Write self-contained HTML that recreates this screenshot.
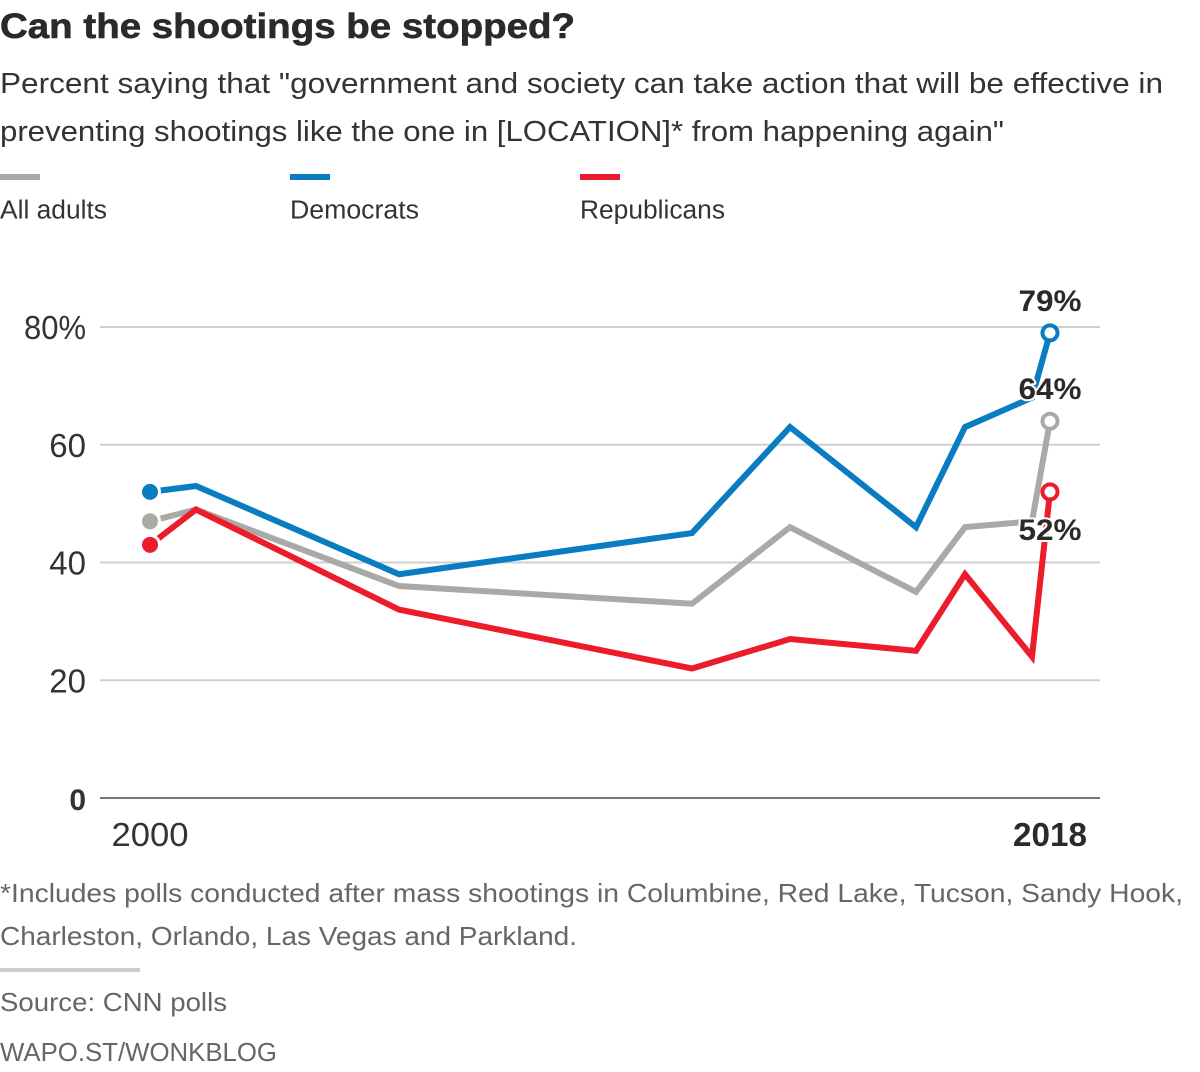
<!DOCTYPE html>
<html lang="en">
<head>
<meta charset="utf-8">
<title>Can the shootings be stopped?</title>
<style>
  html, body { margin: 0; padding: 0; background: #fff; }
  svg { display: block; font-family: "Liberation Sans", sans-serif; }
</style>
</head>
<body>
<svg id="chart" xmlns="http://www.w3.org/2000/svg" width="1200" height="1072" viewBox="0 0 1200 1072">
  <rect width="1200" height="1072" fill="#fff"/>
  <text x="0" y="38" font-size="35" font-weight="700" fill="#2a2a2a" stroke="#2a2a2a" stroke-width="0.6" textLength="575" lengthAdjust="spacingAndGlyphs">Can the shootings be stopped?</text>
  <text x="0" y="93" font-size="29" fill="#333" textLength="1163" lengthAdjust="spacingAndGlyphs">Percent saying that "government and society can take action that will be effective in</text>
  <text x="0" y="141" font-size="29" fill="#333" textLength="1004" lengthAdjust="spacingAndGlyphs">preventing shootings like the one in [LOCATION]* from happening again"</text>

  <rect x="0" y="174" width="40" height="6" fill="#a9a9a6"/>
  <text x="0" y="218.5" font-size="25.5" fill="#333" textLength="107" lengthAdjust="spacingAndGlyphs">All adults</text>
  <rect x="290" y="174" width="40" height="6" fill="#0a7dc2"/>
  <text x="290" y="218.5" font-size="25.5" fill="#333" textLength="129" lengthAdjust="spacingAndGlyphs">Democrats</text>
  <rect x="580" y="174" width="40" height="6" fill="#ec1c2a"/>
  <text x="580" y="218.5" font-size="25.5" fill="#333" textLength="145" lengthAdjust="spacingAndGlyphs">Republicans</text>

  <g id="grid"></g>
  <g id="yAxis"></g>
  <g id="xAxis"></g>
  <g id="series"></g>
  <g id="labels"></g>

  <text x="0" y="902" font-size="26" fill="#666" textLength="1183" lengthAdjust="spacingAndGlyphs">*Includes polls conducted after mass shootings in Columbine, Red Lake, Tucson, Sandy Hook,</text>
  <text x="0" y="945" font-size="26" fill="#666" textLength="577" lengthAdjust="spacingAndGlyphs">Charleston, Orlando, Las Vegas and Parkland.</text>
  <rect x="0" y="968" width="140" height="4" fill="#ccc"/>
  <text x="0" y="1011" font-size="26" fill="#666" textLength="227" lengthAdjust="spacingAndGlyphs">Source: CNN polls</text>
  <text x="0" y="1061" font-size="26" fill="#666" textLength="277" lengthAdjust="spacingAndGlyphs">WAPO.ST/WONKBLOG</text>
</svg>
<script>
const pollDates = [2000, 2000.92, 2004.98, 2010.84, 2012.8, 2015.32, 2016.3, 2017.64, 2018];
const allAdults = [47, 49, 36, 33, 46, 35, 46, 47, 64];
const democrats = [52, 53, 38, 45, 63, 46, 63, 68, 79];
const republicans = [43, 49, 32, 22, 27, 25, 38, 24, 52];
const yTicks = [0, 20, 40, 60, 80];
const yTickLabels = ["0", "20", "40", "60", "80%"];
const xTicks = [2000, 2018];
const xTickLabels = ["2000", "2018"];

const NS = "http://www.w3.org/2000/svg";
const xScale = function (year) { return 150 + (year - 2000) * (1050 - 150) / 18; };
const yScale = function (value) { return 798 - value * (798 - 327) / 80; };

function make(parent, tag, attrs) {
  const el = document.createElementNS(NS, tag);
  Object.keys(attrs).forEach(function (k) { el.setAttribute(k, attrs[k]); });
  parent.appendChild(el);
  return el;
}

const grid = document.getElementById("grid");
const yAxis = document.getElementById("yAxis");
const xAxis = document.getElementById("xAxis");
const seriesGroup = document.getElementById("series");
const labelGroup = document.getElementById("labels");

yTicks.forEach(function (tick, i) {
  const isZero = tick === 0;
  const line = make(grid, "line", {
    x1: 100, x2: 1100, y1: yScale(tick), y2: yScale(tick),
    stroke: isZero ? "#777" : "#cfcfcf", "stroke-width": 2
  });
  
  
  const label = make(yAxis, "text", {
    x: 86, y: yScale(tick) + 12, "text-anchor": "end",
    "font-size": isZero ? 30 : 33, "font-weight": isZero ? 700 : 400, fill: "#333"
  });
  if (yTickLabels[i].indexOf("%") !== -1) {
    label.setAttribute("textLength", 62);
    label.setAttribute("lengthAdjust", "spacingAndGlyphs");
  }
  
  
  label.textContent = yTickLabels[i];
});

xTicks.forEach(function (year, i) {
  const isLast = i === xTicks.length - 1;
  const label = make(xAxis, "text", {
    x: xScale(year), y: 846, "text-anchor": "middle",
    "font-size": 33, "font-weight": isLast ? 700 : 400, fill: isLast ? "#2a2a2a" : "#333",
    textLength: isLast ? 74 : 77, lengthAdjust: "spacingAndGlyphs"
  });
  
  
  label.textContent = xTickLabels[i];
});

function drawSeries(key, values, color) {
  const pts = values.map(function (v, i) { return xScale(pollDates[i]) + "," + yScale(v); }).join(" ");
  const line = make(seriesGroup, "polyline", {
    points: pts, fill: "none", stroke: color, "stroke-width": 6,
    "stroke-linejoin": "miter", "stroke-miterlimit": 6
  });
  
  
}

function drawDots(key, values, color) {
  const last = values.length - 1;
  const start = make(seriesGroup, "circle", {
    cx: xScale(pollDates[0]), cy: yScale(values[0]), r: 9.5,
    fill: color, stroke: "#fff", "stroke-width": 3
  });
  
  
  const end = make(seriesGroup, "circle", {
    cx: xScale(pollDates[last]), cy: yScale(values[last]), r: 7.5,
    fill: "#fff", stroke: color, "stroke-width": 4
  });
  
  
}

drawSeries("democrats", democrats, "#0a7dc2");
drawSeries("all-adults", allAdults, "#a9a9a6");
drawSeries("republicans", republicans, "#ec1c2a");
drawDots("democrats", democrats, "#0a7dc2");
drawDots("all-adults", allAdults, "#a9a9a6");
drawDots("republicans", republicans, "#ec1c2a");

function drawEndLabel(key, values, offset) {
  const last = values.length - 1;
  const label = make(labelGroup, "text", {
    x: xScale(pollDates[last]), y: yScale(values[last]) + offset, "text-anchor": "middle",
    "font-size": 30, "font-weight": 700, fill: "#2a2a2a",
    stroke: "#fff", "stroke-width": 4, "paint-order": "stroke", "stroke-linejoin": "round",
    textLength: 63, lengthAdjust: "spacingAndGlyphs"
  });
  
  
  label.textContent = values[last] + "%";
}

drawEndLabel("democrats", democrats, -22);
drawEndLabel("all-adults", allAdults, -22);
drawEndLabel("republicans", republicans, 48);
</script>
</body>
</html>
